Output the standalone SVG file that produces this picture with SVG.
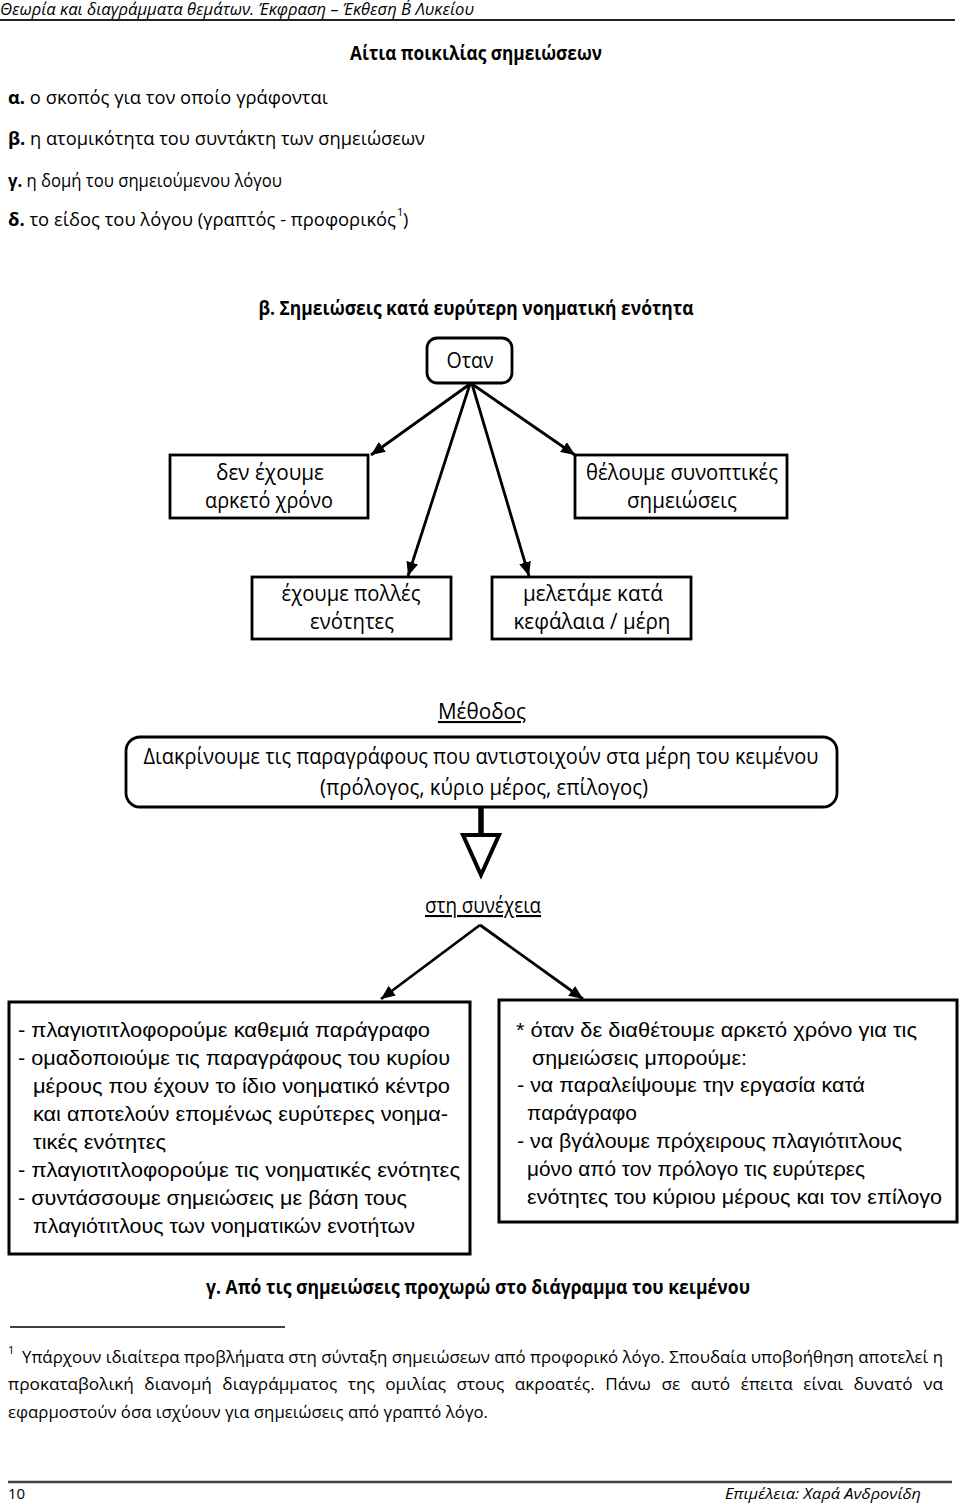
<svg xmlns="http://www.w3.org/2000/svg" width="960" height="1504" viewBox="0 0 960 1504">
<defs>
<style>
.c{font-family:"Open Sans","Noto Sans",sans-serif;fill:#000}
.d{font-family:"Open Sans","Noto Sans",sans-serif;font-size:21px;fill:#000;text-anchor:middle}
.a{font-family:"Liberation Sans",Arial,sans-serif;font-size:20px;fill:#000}
.b{font-weight:bold}
.box{fill:#fff;stroke:#000;stroke-width:2.8}
.bbox{fill:#fff;stroke:#000;stroke-width:3}
.con{stroke:#000;stroke-width:2.8;fill:none}
</style>
<marker id="ah" viewBox="0 0 14 12" refX="14" refY="6" markerWidth="14" markerHeight="12" markerUnits="userSpaceOnUse" orient="auto"><path d="M0,0 L14,6 L0,12 z" fill="#000"/></marker>
</defs>
<rect width="960" height="1504" fill="#fff"/>

<g id="header">
<text class="c" x="0" y="15" font-size="15.5" font-style="italic" textLength="474" lengthAdjust="spacingAndGlyphs">Θεωρία και διαγράμματα θεμάτων. Έκφραση – Έκθεση Β΄ Λυκείου</text>
<line x1="0" y1="20" x2="955" y2="20" stroke="#222" stroke-width="2"/>
</g>

<g id="intro">
<text class="c b" x="476" y="60" font-size="19" text-anchor="middle" textLength="252" lengthAdjust="spacingAndGlyphs">Αίτια ποικιλίας σημειώσεων</text>
<text class="c" x="8" y="104" font-size="18" textLength="320" lengthAdjust="spacingAndGlyphs"><tspan font-weight="bold">α.</tspan> ο σκοπός για τον οποίο γράφονται</text>
<text class="c" x="8" y="145" font-size="18" textLength="417" lengthAdjust="spacingAndGlyphs"><tspan font-weight="bold">β.</tspan> η ατομικότητα του συντάκτη των σημειώσεων</text>
<text class="c" x="8" y="187" font-size="18" textLength="274" lengthAdjust="spacingAndGlyphs"><tspan font-weight="bold">γ.</tspan> η δομή του σημειούμενου λόγου</text>
<text class="c" x="8" y="226" font-size="18" textLength="388" lengthAdjust="spacingAndGlyphs"><tspan font-weight="bold">δ.</tspan> το είδος του λόγου (γραπτός - προφορικός</text>
<text class="c" x="397" y="216" font-size="11">1</text>
<text class="c" x="403" y="226" font-size="18">)</text>
</g>

<g id="heading-b">
<text class="c b" x="476" y="315" font-size="19" text-anchor="middle" textLength="435" lengthAdjust="spacingAndGlyphs">β. Σημειώσεις κατά ευρύτερη νοηματική ενότητα</text>
</g>

<g id="connectors">
<line class="con" x1="470" y1="384" x2="371" y2="455" marker-end="url(#ah)"/>
<line class="con" x1="470" y1="384" x2="408" y2="576" marker-end="url(#ah)"/>
<line class="con" x1="472" y1="384" x2="529" y2="576" marker-end="url(#ah)"/>
<line class="con" x1="472" y1="384" x2="575" y2="455" marker-end="url(#ah)"/>
<line x1="481" y1="807" x2="481" y2="836" stroke="#000" stroke-width="5.5"/>
<polygon points="463,835 499,835 481,875" fill="#fff" stroke="#000" stroke-width="4" stroke-linejoin="miter"/>
<line class="con" x1="480" y1="925" x2="381" y2="999" marker-end="url(#ah)"/>
<line class="con" x1="480" y1="925" x2="583" y2="999" marker-end="url(#ah)"/>
</g>

<g id="node-otan">
<rect class="box" x="427" y="338" width="85" height="45" rx="10"/>
<text class="d" x="470" y="368" textLength="47" lengthAdjust="spacingAndGlyphs">Οταν</text>
</g>

<g id="node-xronos">
<rect class="box" x="170" y="455" width="198" height="63"/>
<text class="d" x="270" y="480" textLength="108" lengthAdjust="spacingAndGlyphs">δεν έχουμε</text>
<text class="d" x="269" y="508" textLength="128" lengthAdjust="spacingAndGlyphs">αρκετό χρόνο</text>
</g>

<g id="node-synoptikes">
<rect class="box" x="575" y="455" width="212" height="63"/>
<text class="d" x="682" y="480" textLength="192" lengthAdjust="spacingAndGlyphs">θέλουμε συνοπτικές</text>
<text class="d" x="682" y="508" textLength="110" lengthAdjust="spacingAndGlyphs">σημειώσεις</text>
</g>

<g id="node-polles">
<rect class="box" x="252" y="577" width="199" height="62"/>
<text class="d" x="351" y="601" textLength="139" lengthAdjust="spacingAndGlyphs">έχουμε πολλές</text>
<text class="d" x="352" y="629" textLength="84" lengthAdjust="spacingAndGlyphs">ενότητες</text>
</g>

<g id="node-kefalaia">
<rect class="box" x="492" y="577" width="199" height="62"/>
<text class="d" x="593" y="601" textLength="140" lengthAdjust="spacingAndGlyphs">μελετάμε κατά</text>
<text class="d" x="592" y="629" textLength="157" lengthAdjust="spacingAndGlyphs">κεφάλαια / μέρη</text>
</g>

<g id="label-methodos">
<text class="d" x="482" y="719" text-decoration="underline" textLength="88" lengthAdjust="spacingAndGlyphs">Μέθοδος</text>
</g>

<g id="node-methodos">
<rect class="box" x="126" y="737" width="711" height="70" rx="14"/>
<text class="d" x="481" y="764" textLength="675" lengthAdjust="spacingAndGlyphs">Διακρίνουμε τις παραγράφους που αντιστοιχούν στα μέρη του κειμένου</text>
<text class="d" x="484" y="795" textLength="328" lengthAdjust="spacingAndGlyphs">(πρόλογος, κύριο μέρος, επίλογος)</text>
</g>

<g id="label-synexeia">
<text class="d" x="483" y="913" text-decoration="underline" textLength="116" lengthAdjust="spacingAndGlyphs">στη συνέχεια</text>
</g>

<g id="node-steps">
<rect class="bbox" x="9" y="1002" width="461" height="252"/>
<text class="a" x="18" y="1037" textLength="412" lengthAdjust="spacingAndGlyphs">- πλαγιοτιτλοφορούμε καθεμιά παράγραφο</text>
<text class="a" x="18" y="1065" textLength="432" lengthAdjust="spacingAndGlyphs">- ομαδοποιούμε τις παραγράφους του κυρίου</text>
<text class="a" x="33" y="1093" textLength="417" lengthAdjust="spacingAndGlyphs">μέρους που έχουν το ίδιο νοηματικό κέντρο</text>
<text class="a" x="33" y="1121" textLength="415" lengthAdjust="spacingAndGlyphs">και αποτελούν επομένως ευρύτερες νοημα-</text>
<text class="a" x="33" y="1149" textLength="133" lengthAdjust="spacingAndGlyphs">τικές ενότητες</text>
<text class="a" x="18" y="1177" textLength="442" lengthAdjust="spacingAndGlyphs">- πλαγιοτιτλοφορούμε τις νοηματικές ενότητες</text>
<text class="a" x="18" y="1205" textLength="389" lengthAdjust="spacingAndGlyphs">- συντάσσουμε σημειώσεις με βάση τους</text>
<text class="a" x="33" y="1233" textLength="382" lengthAdjust="spacingAndGlyphs">πλαγιότιτλους των νοηματικών ενοτήτων</text>
</g>

<g id="node-xronos-note">
<rect class="bbox" x="499" y="1000" width="458" height="222"/>
<text class="a" x="516" y="1037" textLength="401" lengthAdjust="spacingAndGlyphs">* όταν δε διαθέτουμε αρκετό χρόνο για τις</text>
<text class="a" x="532" y="1065" textLength="215" lengthAdjust="spacingAndGlyphs">σημειώσεις μπορούμε:</text>
<text class="a" x="517" y="1092" textLength="348" lengthAdjust="spacingAndGlyphs">- να παραλείψουμε την εργασία κατά</text>
<text class="a" x="527" y="1120" textLength="110" lengthAdjust="spacingAndGlyphs">παράγραφο</text>
<text class="a" x="517" y="1148" textLength="385" lengthAdjust="spacingAndGlyphs">- να βγάλουμε πρόχειρους πλαγιότιτλους</text>
<text class="a" x="527" y="1176" textLength="338" lengthAdjust="spacingAndGlyphs">μόνο από τον πρόλογο τις ευρύτερες</text>
<text class="a" x="527" y="1204" textLength="415" lengthAdjust="spacingAndGlyphs">ενότητες του κύριου μέρους και τον επίλογο</text>
</g>

<g id="heading-c">
<text class="c b" x="478" y="1294" font-size="19" text-anchor="middle" textLength="544" lengthAdjust="spacingAndGlyphs">γ. Από τις σημειώσεις προχωρώ στο διάγραμμα του κειμένου</text>
</g>

<g id="footnote">
<line x1="10" y1="1327" x2="285" y2="1327" stroke="#000" stroke-width="1.5"/>
<text class="c" x="8" y="1354" font-size="11">1</text>
<text class="c" x="22" y="1363" font-size="17" textLength="921" lengthAdjust="spacingAndGlyphs">Υπάρχουν ιδιαίτερα προβλήματα στη σύνταξη σημειώσεων από προφορικό λόγο. Σπουδαία υποβοήθηση αποτελεί η</text>
<text class="c" x="8" y="1390" font-size="17" word-spacing="6" textLength="935" lengthAdjust="spacingAndGlyphs">προκαταβολική διανομή διαγράμματος της ομιλίας στους ακροατές. Πάνω σε αυτό έπειτα είναι δυνατό να</text>
<text class="c" x="8" y="1418" font-size="17" textLength="480" lengthAdjust="spacingAndGlyphs">εφαρμοστούν όσα ισχύουν για σημειώσεις από γραπτό λόγο.</text>
</g>

<g id="footer">
<line x1="8" y1="1482" x2="952" y2="1482" stroke="#444" stroke-width="2.5"/>
<text class="c" x="8" y="1499" font-size="15">10</text>
<text class="c" x="725" y="1499" font-size="15" font-style="italic" textLength="196" lengthAdjust="spacingAndGlyphs">Επιμέλεια: Χαρά Ανδρονίδη</text>
</g>
</svg>
